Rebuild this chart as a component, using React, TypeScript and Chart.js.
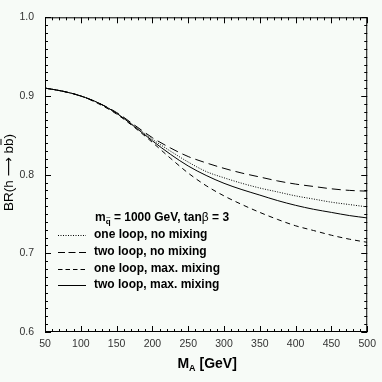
import React, { useEffect, useRef } from "react";
import { Chart, registerables } from "chart.js";

Chart.register(...registerables);

const massA = [50, 75, 100, 125, 150, 175, 200, 225, 250, 275, 300, 325, 350, 375, 400, 425, 450, 475, 500];
const oneLoopNoMix = [0.910, 0.906, 0.900, 0.891, 0.878, 0.862, 0.845, 0.830, 0.816, 0.804, 0.796, 0.789, 0.783, 0.778, 0.773, 0.769, 0.765, 0.762, 0.759];
const twoLoopNoMix = [0.910, 0.906, 0.900, 0.891, 0.879, 0.863, 0.847, 0.834, 0.823, 0.815, 0.808, 0.802, 0.797, 0.792, 0.788, 0.785, 0.782, 0.780, 0.779];
const oneLoopMaxMix = [0.910, 0.906, 0.900, 0.890, 0.877, 0.860, 0.841, 0.821, 0.802, 0.786, 0.773, 0.762, 0.752, 0.743, 0.735, 0.729, 0.723, 0.718, 0.714];
const twoLoopMaxMix = [0.910, 0.906, 0.900, 0.891, 0.878, 0.861, 0.843, 0.826, 0.811, 0.799, 0.789, 0.781, 0.774, 0.767, 0.761, 0.756, 0.752, 0.748, 0.745];

const seriesLabels = ["one loop, no mixing", "two loop, no mixing", "one loop, max. mixing", "two loop, max. mixing"];
const seriesDash: number[][] = [[1, 1.5], [9, 5], [5, 4], []];
const xTickStep = 50;
const yTickStep = 0.1;

const BG = "#f7fbf7";

const decorPlugin = {
  id: "decor",
  afterDraw(chart: any) {
    const ctx = chart.ctx as CanvasRenderingContext2D;
    const { left, right, top, bottom } = chart.chartArea;
    const xs = chart.scales.x;
    const ys = chart.scales.y;
    ctx.save();
    ctx.strokeStyle = "#000";
    ctx.lineWidth = 1;
    ctx.strokeRect(left + 0.5, top + 0.5, right - left - 1, bottom - top - 1);
    ctx.beginPath();
    for (let v = 50; v <= 500; v += 10) {
      const px = Math.round(xs.getPixelForValue(v)) + 0.5;
      const len = v % 50 === 0 ? 6 : 3;
      ctx.moveTo(px, bottom); ctx.lineTo(px, bottom - len);
      ctx.moveTo(px, top); ctx.lineTo(px, top + len);
    }
    for (let i = 0; i <= 40; i++) {
      const v = 0.6 + i * 0.01;
      const py = Math.round(ys.getPixelForValue(v)) + 0.5;
      const len = i % 10 === 0 ? 6 : 3;
      ctx.moveTo(left, py); ctx.lineTo(left + len, py);
      ctx.moveTo(right, py); ctx.lineTo(right - len, py);
    }
    ctx.stroke();

    // x title
    ctx.fillStyle = "#000";
    ctx.textBaseline = "alphabetic";
    ctx.textAlign = "left";
    ctx.font = "bold 14px 'Liberation Sans', Arial, sans-serif";
    const mW = ctx.measureText("M").width;
    ctx.font = "bold 9px 'Liberation Sans', Arial, sans-serif";
    const aW = ctx.measureText("A").width;
    ctx.font = "bold 14px 'Liberation Sans', Arial, sans-serif";
    const restW = ctx.measureText(" [GeV]").width;
    const total = mW + aW + restW;
    const x0 = (left + right) / 2 - total / 2 + 1;
    const by = 368;
    ctx.fillText("M", x0, by);
    ctx.font = "bold 9px 'Liberation Sans', Arial, sans-serif";
    ctx.fillText("A", x0 + mW, by + 3);
    ctx.font = "bold 14px 'Liberation Sans', Arial, sans-serif";
    ctx.fillText(" [GeV]", x0 + mW + aW, by);

    // y title
    ctx.save();
    ctx.translate(12.5, 172.5);
    ctx.rotate(-Math.PI / 2);
    ctx.font = "13.5px 'Liberation Sans', 'DejaVu Sans', sans-serif";
    const yTitle = "BR(h \u27f6 bb)";
    const w = ctx.measureText(yTitle).width;
    ctx.textAlign = "left";
    const sx = -w / 2;
    ctx.fillText(yTitle, sx, 0);
    const preW = ctx.measureText("BR(h \u27f6 b").width;
    const bW = ctx.measureText("b").width;
    ctx.beginPath();
    ctx.lineWidth = 1;
    ctx.moveTo(sx + preW + 1, -11.5);
    ctx.lineTo(sx + preW + bW - 0.5, -11.5);
    ctx.stroke();
    ctx.restore();

    // legend
    const rowY = [235, 252, 268.5, 285];
    const textX = 94;
    ctx.font = "bold 12px 'Liberation Sans', Arial, sans-serif";
    ctx.textBaseline = "middle";
    const ty = 218;
    ctx.fillText("m", 95, ty);
    const mw = ctx.measureText("m").width;
    ctx.font = "bold 8px 'Liberation Sans', Arial, sans-serif";
    ctx.fillText("q", 95 + mw, ty + 4);
    const qw = ctx.measureText("q").width;
    ctx.font = "8px 'Liberation Sans', Arial, sans-serif";
    ctx.fillText("~", 95 + mw + 0.3, ty);
    ctx.font = "bold 12px 'Liberation Sans', Arial, sans-serif";
    ctx.fillText(" = 1000 GeV, tan", 95 + mw + qw, ty);
    const t1 = ctx.measureText(" = 1000 GeV, tan").width;
    ctx.font = "12px 'Liberation Sans', Arial, sans-serif";
    ctx.fillText("\u03b2", 95 + mw + qw + t1, ty);
    const bw2 = ctx.measureText("\u03b2").width;
    ctx.font = "bold 12px 'Liberation Sans', Arial, sans-serif";
    ctx.fillText(" = 3", 95 + mw + qw + t1 + bw2, ty);

    for (let i = 0; i < 4; i++) {
      const y = Math.round(rowY[i]) + 0.5;
      ctx.beginPath();
      ctx.setLineDash(i === 1 ? [7, 3.5] : i === 2 ? [4.5, 3] : seriesDash[i]);
      ctx.lineWidth = 1;
      ctx.moveTo(58, y);
      ctx.lineTo(86, y);
      ctx.stroke();
      ctx.setLineDash([]);
      ctx.fillText(seriesLabels[i], textX, rowY[i]);
    }
    ctx.restore();
  },
};

const bgPlugin = {
  id: "bg",
  beforeDraw(chart: any) {
    const ctx = chart.ctx;
    ctx.save();
    ctx.fillStyle = BG;
    ctx.fillRect(0, 0, chart.width, chart.height);
    ctx.restore();
  },
};

function toPoints(ys: number[]) {
  return massA.map((x, i) => ({ x, y: ys[i] }));
}

export default function App() {
  const ref = useRef<HTMLCanvasElement>(null);
  useEffect(() => {
    if (!ref.current) return;
    const all = [oneLoopNoMix, twoLoopNoMix, oneLoopMaxMix, twoLoopMaxMix];
    const chart = new Chart(ref.current, {
      type: "line",
      data: {
        datasets: all.map((d, i) => ({
          label: seriesLabels[i],
          data: toPoints(d),
          borderColor: "#000",
          borderWidth: 1,
          borderDash: seriesDash[i],
          pointRadius: 0,
          fill: false,
          cubicInterpolationMode: "monotone" as const,
        })),
      },
      options: {
        animation: false,
        responsive: false,
        devicePixelRatio: 1,
        layout: { padding: { top: 7, right: 11, left: 0, bottom: 0 } },
        plugins: { legend: { display: false }, tooltip: { enabled: false } },
        scales: {
          x: {
            type: "linear",
            min: 50,
            max: 500,
            grid: { display: false, drawTicks: false },
            border: { display: false },
            ticks: {
              stepSize: xTickStep,
              padding: 6,
              maxRotation: 0,
              color: "#333",
              font: { family: "'Liberation Sans', Arial, sans-serif", size: 10.5 },
            },
            afterFit(scale: any) { scale.height = 50; },
          },
          y: {
            type: "linear",
            min: 0.6,
            max: 1.0,
            grid: { display: false, drawTicks: false },
            border: { display: false },
            ticks: {
              stepSize: yTickStep,
              padding: 11,
              color: "#333",
              font: { family: "'Liberation Sans', Arial, sans-serif", size: 10.5 },
              callback: (v: any) => Number(v).toFixed(1),
            },
            afterFit(scale: any) { scale.width = 45; },
          },
        },
      },
      plugins: [bgPlugin, decorPlugin],
    });
    return () => chart.destroy();
  }, []);
  return (
    <div style={{ position: "fixed", left: 0, top: 0, width: 382, height: 382, background: BG }}>
      <canvas ref={ref} width={382} height={382} style={{ display: "block" }} />
    </div>
  );
}
